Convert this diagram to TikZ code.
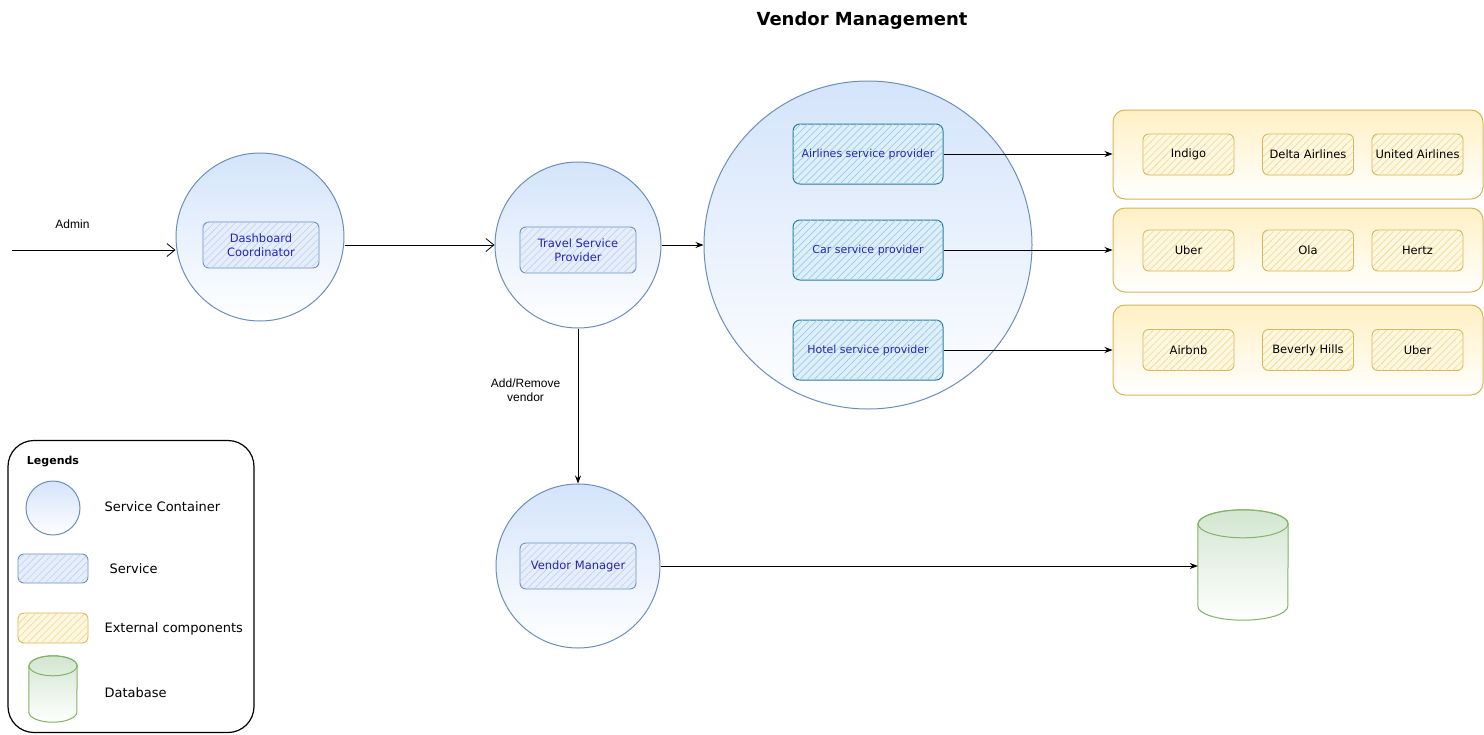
\documentclass[tikz,border=0pt]{standalone}
\usepackage{fontspec}
\setmainfont{DejaVu Sans}
\newfontfamily\arialfont{Liberation Sans}
\usetikzlibrary{positioning, arrows.meta, shapes.geometric, patterns.meta}

\definecolor{ctnline}{HTML}{6C8EBF}
\definecolor{ctnfill}{HTML}{D4E4FB}
\definecolor{svcfill}{HTML}{E6EEFB}
\definecolor{svchatch}{HTML}{BCD0EE}
\definecolor{provline}{HTML}{2A7A9E}
\definecolor{provfill}{HTML}{DDEFF8}
\definecolor{provhatch}{HTML}{9CCBE6}
\definecolor{svctext}{HTML}{2525B8}
\definecolor{extline}{HTML}{D6B656}
\definecolor{extfill}{HTML}{FFF0C4}
\definecolor{exthatch}{HTML}{EFD994}
\definecolor{dbline}{HTML}{82B366}
\definecolor{dbfill}{HTML}{D2E6D0}

% cylinder drawn round a named node: node, x radius, y radius
\newcommand{\drawcyl}[3]{%
  \path[draw=dbline, line width=1pt, top color=dbfill, bottom color=white]
    ([yshift=-#3]#1.north west) -- ([yshift=#3]#1.south west)
    arc[start angle=180, end angle=360, x radius=#2, y radius=#3]
    -- ([yshift=-#3]#1.north east)
    arc[start angle=0, end angle=180, x radius=#2, y radius=#3] -- cycle;
  \draw[dbline, line width=1pt] ([yshift=-#3]#1.north) ellipse [x radius=#2, y radius=#3];
}

\tikzset{
  container/.style={circle, draw=ctnline, line width=1pt, top color=ctnfill, bottom color=white, minimum size=#1, inner sep=0pt},
  service/.style={draw=ctnline, line width=0.9pt, rounded corners=6pt, fill=svcfill,
    postaction={pattern={Lines[angle=45,distance=5pt,line width=0.6pt]}, pattern color=svchatch},
    text=svctext, font=\fontsize{11.5}{14}\selectfont, align=center, minimum width=116pt, minimum height=46pt, inner sep=1pt},
  provider/.style={draw=provline, line width=1pt, rounded corners=7pt, fill=provfill,
    postaction={pattern={Lines[angle=45,distance=5pt,line width=0.7pt]}, pattern color=provhatch},
    text=svctext, font=\fontsize{11}{13}\selectfont, minimum width=150pt, minimum height=60pt, inner sep=1pt},
  extgroup/.style={draw=extline, line width=1pt, rounded corners=12pt, top color=extfill, bottom color=white, minimum width=370pt},
  extbox/.style={draw=extline, line width=0.9pt, rounded corners=6pt, fill=extfill!55,
    postaction={pattern={Lines[angle=45,distance=5pt,line width=0.6pt]}, pattern color=exthatch},
    font=\fontsize{11.5}{14}\selectfont, minimum width=91pt, minimum height=41pt, inner sep=1pt},
  dbspot/.style={minimum width=#1, inner sep=0pt},
  openarrow/.style={-{Straight Barb[length=8pt,width=13pt]}, line width=0.8pt},
  arrow/.style={-{Stealth[length=8pt,width=6pt]}, line width=0.8pt},
  lbl/.style={font=\arialfont\fontsize{12}{14}\selectfont, align=center},
  legtext/.style={font=\fontsize{13}{15}\selectfont, anchor=west}
}

\begin{document}
\begin{tikzpicture}[x=1pt, y=-1pt]
    \useasboundingbox (0,0) rectangle (1484,734);

    % Title
    \node[font=\bfseries\fontsize{18}{22}\selectfont] (title) at (862,21) {Vendor Management};

    % Service containers
    \node[container=168pt] (dash) at (260,237) {};
    \node[service] (dashbox) at (261,245) {Dashboard\\Coordinator};

    \node[container=166pt] (trav) at (578,245) {};
    \node[service] (travbox) at (578,250) {Travel Service\\Provider};

    \node[container=328pt] (prov) at (868,245) {};
    \node[provider] (air) at (868,154) {Airlines service provider};
    \node[provider] (car) at (868,250) {Car service provider};
    \node[provider] (hotel) at (868,350) {Hotel service provider};

    \node[container=164pt] (vmgr) at (578,566) {};
    \node[service] (vmgrbox) at (578,566) {Vendor Manager};

    % External components
    \node[extgroup, minimum height=89pt] (airgrp) at (1298,154.5) {};
    \node[extgroup, minimum height=84pt] (cargrp) at (1298,250) {};
    \node[extgroup, minimum height=90pt] (hotelgrp) at (1298,350) {};
    \foreach \g/\y/\a/\b/\c in {air/154.5/Indigo/Delta Airlines/United Airlines, car/250.5/Uber/Ola/Hertz, hotel/350/Airbnb/Beverly Hills/Uber} {
      \node[extbox] (\g1) at (1188.5,\y) {\a};
      \node[extbox] (\g2) at (1308,\y) {\b};
      \node[extbox] (\g3) at (1417.5,\y) {\c};
    }

    % Database
    \node[dbspot=90pt, minimum height=110pt] (db) at (1243,565) {};
    \drawcyl{db}{45pt}{14pt}

    % Connectors
    \coordinate (admin) at (12,250);
    \draw[openarrow] (admin) -- (admin -| dash.west) node[lbl, pos=0.37, above=18pt] {Admin};
    \draw[openarrow] (dash.east |- trav.west) -- (trav.west);
    \draw[arrow] (trav.east) -- (prov.west);
    \draw[arrow] (air.east) -- (air.east -| airgrp.west);
    \draw[arrow] (car.east) -- (car.east -| cargrp.west);
    \draw[arrow] (hotel.east) -- (hotel.east -| hotelgrp.west);
    \draw[arrow] (trav.south) -- (vmgr.north) node[lbl, pos=0.4, left=14pt] {Add/Remove\\vendor};
    \draw[arrow] (vmgr.east) -- (vmgr.east -| db.west);

    % Legend
    \node[draw, line width=1.2pt, rounded corners=26pt, minimum width=246pt, minimum height=292pt] (legend) at (131,586.5) {};
    \node[font=\bfseries\fontsize{11}{13}\selectfont] (legtitle) at (53,462) {Legends};
    \node[container=54pt] (legc) at (53,508) {};
    \node[service, minimum width=70pt, minimum height=29pt] (legs) at (53,568.5) {};
    \node[extbox, minimum width=70pt, minimum height=30pt] (lege) at (53,628) {};
    \node[dbspot=48pt, minimum height=66pt] (legd) at (53,689) {};
    \drawcyl{legd}{24pt}{10pt}
    \node[legtext] at (101,507) {Service Container};
    \node[legtext] at (106,569) {Service};
    \node[legtext] at (101,629) {External components};
    \node[legtext] at (101,693) {Database};
\end{tikzpicture}
\end{document}
